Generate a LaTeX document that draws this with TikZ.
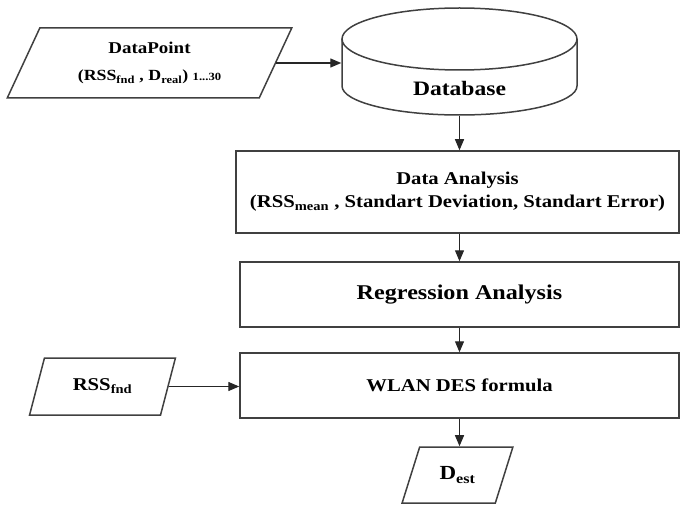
\documentclass[tikz,border=0pt]{standalone}
\usepackage{fontspec}
\setmainfont{Liberation Serif}[FakeStretch=1.15]
\usetikzlibrary{shapes.geometric,arrows.meta}
\newcommand{\flowsize}[2]{\fontsize{#1}{#2}\selectfont\bfseries}

\begin{document}
\begin{tikzpicture}[x=1pt,y=-1pt,line width=1.5pt,
  inbox/.style={draw=black!75,trapezium,trapezium left angle=63,trapezium right angle=117,trapezium stretches=true,inner sep=0pt,align=center},
  procbox/.style={draw=black!75,rectangle,inner sep=0pt,align=center},
  flow/.style={-{Triangle[length=11pt,width=9pt]},line width=1.3pt,black!85}]
\useasboundingbox (0,0) rectangle (680,508);
% Inputs:
\node (datapoint) [inbox,minimum width=285pt,minimum height=70pt,font=\flowsize{16.5}{27}] at (149.5,63)
  {DataPoint\\{\fontsize{15.5}{15.5}\selectfont(RSS\textsubscript{fnd} , D\textsubscript{real}) {\fontsize{11}{11}\selectfont 1...30}}};
\node (rss) [inbox,minimum width=147pt,minimum height=57pt,font=\flowsize{18}{18}] at (102.5,386.5) {RSS\textsubscript{fnd}};
% Database:
\node (db) [minimum width=235pt,minimum height=107pt,inner sep=0pt] at (459.5,61.5) {};
\draw[black!75] (459.5,39) ellipse [x radius=117.5pt,y radius=31pt];
\draw[black!75] (342,39) -- (342,86) arc [start angle=180,end angle=360,x radius=117.5pt,y radius=29pt] -- (577,39);
\node (dblabel) [font=\flowsize{20.5}{20.5}] at (459.5,88) {Database};
% Processing steps:
\node (analysis) [procbox,minimum width=443pt,minimum height=82pt,font=\flowsize{18}{23}] at (457.5,192)
  {Data Analysis\\(RSS\textsubscript{mean} , Standart Deviation, Standart Error)};
\node (regression) [procbox,minimum width=439pt,minimum height=65pt,font=\flowsize{21}{21}] at (459.5,294.5) {Regression Analysis};
\node (wlan) [procbox,minimum width=439pt,minimum height=65pt,font=\flowsize{18}{18}] at (459.5,385.5) {WLAN DES formula};
\node (dest) [inbox,minimum width=111pt,minimum height=56pt,font=\flowsize{20}{20}] at (457.5,475) {D\textsubscript{est}};
% Arrows:
\draw[flow] (datapoint.east) -- (datapoint.east -| db.west);
\draw[flow] (db.south) -- (db.south |- analysis.north);
\draw[flow] (analysis.south -| regression.north) -- (regression.north);
\draw[flow] (regression.south) -- (wlan.north);
\draw[flow] (rss.east) -- (rss.east -| wlan.west);
\draw[flow] (wlan.south) -- (wlan.south |- dest.north);
\end{tikzpicture}
\end{document}
